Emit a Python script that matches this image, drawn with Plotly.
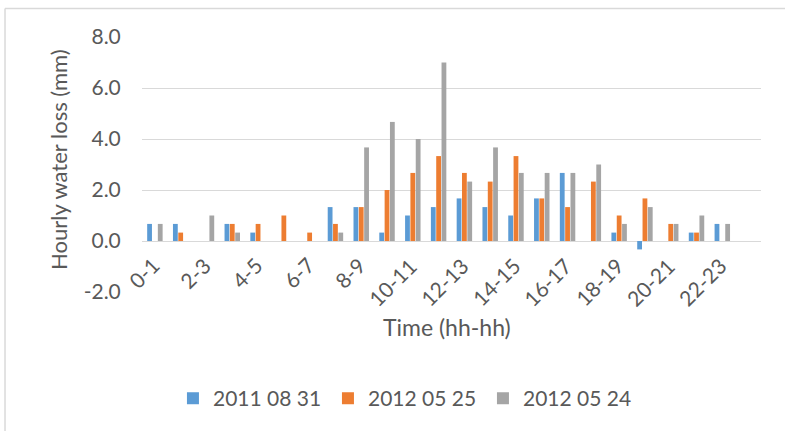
import plotly.graph_objects as go

categories = [f"{h}-{h+1}" for h in range(24)]
tick_labels = [c for i, c in enumerate(categories) if i % 2 == 0]
y_tick_values = [-2, 0, 2, 4, 6, 8]
y_tick_text = ["-2.0", "0.0", "2.0", "4.0", "6.0", "8.0"]

series_names = ["2011 08 31", "2012 05 25", "2012 05 24"]
s2011_08_31 = [0.67, 0.67, 0, 0.67, 0.33, 0, 0, 1.33, 1.33, 0.33, 1.0, 1.33,
               1.67, 1.33, 1.0, 1.67, 2.67, 0, 0.33, -0.33, 0, 0.33, 0.67, 0]
s2012_05_25 = [0, 0.33, 0, 0.67, 0.67, 1.0, 0.33, 0.67, 1.33, 2.0, 2.67, 3.33,
               2.67, 2.33, 3.33, 1.67, 1.33, 2.33, 1.0, 1.67, 0.67, 0.33, 0, 0]
s2012_05_24 = [0.67, 0, 1.0, 0.33, 0, 0, 0, 0.33, 3.67, 4.67, 4.0, 7.0,
               2.33, 3.67, 2.67, 2.67, 2.67, 3.0, 0.67, 1.33, 0.67, 1.0, 0.67, 0]
colors = ["#5B9BD5", "#ED7D31", "#A5A5A5"]

FONT = "Lato"
TXT = "#595959"
GRID = "#D9D9D9"

fig = go.Figure()
for name, vals, col in zip(series_names, [s2011_08_31, s2012_05_25, s2012_05_24], colors):
    fig.add_trace(go.Bar(x=categories, y=vals, name=name, marker_color=col,
                         marker_line_width=0))

annotations = []
for lab in tick_labels:
    annotations.append(dict(x=lab, y=-0.82, xref="x", yref="y", text=lab,
                            showarrow=False, textangle=-45, xanchor="right",
                            yanchor="top", xshift=12, yshift=12,
                            font=dict(family=FONT, size=21, color=TXT)))
annotations.append(dict(x=-0.134, y=0.518, xref="paper", yref="paper",
                        text="Hourly water loss (mm)", showarrow=False,
                        textangle=-90, xanchor="center", yanchor="middle",
                        font=dict(family=FONT, size=22, color=TXT)))
annotations.append(dict(x=0.492, y=-0.137, xref="paper", yref="paper",
                        text="Time (hh-hh)", showarrow=False,
                        xanchor="center", yanchor="middle",
                        font=dict(family=FONT, size=23, color=TXT)))

fig.update_layout(
    width=785, height=431,
    margin=dict(l=142, r=24, t=37, b=139),
    paper_bgcolor="white", plot_bgcolor="white",
    barmode="group", bargap=0.38, bargroupgap=0.1,
    font=dict(family=FONT, size=21, color=TXT),
    showlegend=True,
    legend=dict(orientation="h", x=0.05, xanchor="left", y=-0.418,
                yanchor="middle", font=dict(family=FONT, size=21, color=TXT),
                entrywidth=110, itemclick=False),
    annotations=annotations,
    shapes=[
        dict(type="line", xref="paper", yref="paper",
             x0=-0.2213, x1=1.1, y0=1.1117, y1=1.1117,
             line=dict(color=GRID, width=1.5)),
        dict(type="line", xref="paper", yref="paper",
             x0=-0.2213, x1=-0.2213, y0=-0.6, y1=1.1117,
             line=dict(color=GRID, width=1.5)),
    ],
)
fig.update_xaxes(type="category", range=[-0.5, 23.5], showticklabels=False,
                 showgrid=False, zeroline=False, showline=False, ticks="")
fig.update_yaxes(range=[-2, 8], tickvals=y_tick_values, ticktext=y_tick_text,
                 showgrid=True, gridcolor=GRID, gridwidth=1, zeroline=True,
                 zerolinecolor=GRID, zerolinewidth=1, showline=False,
                 ticks="outside", ticklen=16, tickcolor="rgba(0,0,0,0)",
                 tickfont=dict(family=FONT, size=21, color=TXT))

fig.write_html("out.html", config={"displayModeBar": False},
               post_script="document.body.style.margin='0';document.body.style.overflow='hidden';")
